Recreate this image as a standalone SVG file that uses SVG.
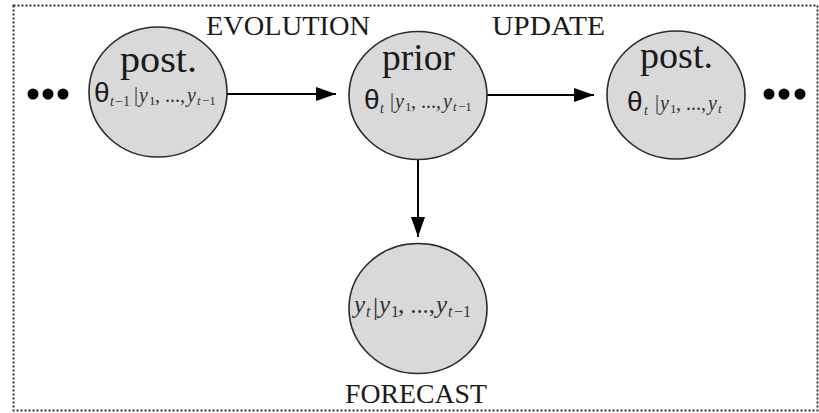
<svg xmlns="http://www.w3.org/2000/svg" width="819" height="413" viewBox="0 0 819 413">
<style>
.node ellipse{fill:#d9d9d9;stroke:#2a2a2a;stroke-width:1.6}
.ttl{font-family:"Liberation Serif",serif;font-size:37px;fill:#1a1a1a}
.lbl{font-family:"Liberation Serif",serif;font-size:27px;fill:#1a1a1a}
.th{font-family:"Liberation Sans","DejaVu Sans",sans-serif;font-size:28px;fill:#1a1a1a}
.mi{font-family:"Liberation Serif",serif;font-style:italic;fill:#333}
.mr{font-family:"Liberation Serif",serif;fill:#333}
.conn line{stroke:#000;stroke-width:2}
.dot{fill:#000}
</style>
<defs>
<marker id="ah" markerUnits="userSpaceOnUse" markerWidth="21" markerHeight="15" refX="20" refY="7" orient="auto">
<path d="M0,0 L20,7 L0,14 z" fill="#000"/>
</marker>
</defs>
<rect x="13.5" y="5.5" width="804" height="405" fill="none" stroke="#333" stroke-width="2" stroke-dasharray="2,2"/>

<g id="labels">
<text class="lbl" x="206" y="35" textLength="164" lengthAdjust="spacingAndGlyphs">EVOLUTION</text>
<text class="lbl" x="492" y="35" textLength="113" lengthAdjust="spacingAndGlyphs">UPDATE</text>
<text class="lbl" x="345" y="403" textLength="142" lengthAdjust="spacingAndGlyphs">FORECAST</text>
</g>

<g id="dots-left">
<circle class="dot" cx="33" cy="94" r="5.5"/>
<circle class="dot" cx="48" cy="94" r="5.5"/>
<circle class="dot" cx="63" cy="94" r="5.5"/>
</g>
<g id="dots-right">
<circle class="dot" cx="769" cy="94" r="5.5"/>
<circle class="dot" cx="784" cy="94" r="5.5"/>
<circle class="dot" cx="800" cy="94" r="5.5"/>
</g>

<g class="conn" id="connectors">
<line x1="227" y1="94" x2="336" y2="94" marker-end="url(#ah)"/>
<line x1="487" y1="95" x2="594" y2="95" marker-end="url(#ah)"/>
<line x1="418" y1="159" x2="418" y2="237" marker-end="url(#ah)"/>
</g>

<g class="node" id="post-prev">
<ellipse cx="158" cy="92" rx="69" ry="65"/>
<text class="ttl" x="120" y="72" textLength="77" lengthAdjust="spacingAndGlyphs">post.</text>
<text class="th" x="94" y="102">θ</text>
<text class="mi" x="110" y="106" font-size="14">t</text>
<text class="mr" x="115" y="106" font-size="14">−1</text>
<text class="mr" x="134" y="101" font-size="20">|</text>
<text class="mi" x="139" y="102" font-size="20">y</text>
<text class="mr" x="149" y="105" font-size="13">1</text>
<text class="mr" x="155" y="102" font-size="20" textLength="30" lengthAdjust="spacing">, ..., </text>
<text class="mi" x="187" y="102" font-size="20">y</text>
<text class="mi" x="197" y="105" font-size="13">t</text>
<text class="mr" x="202" y="105" font-size="13">−1</text>
</g>

<g class="node" id="prior">
<ellipse cx="418" cy="95.5" rx="69" ry="64"/>
<text class="ttl" x="382" y="70" textLength="73" lengthAdjust="spacingAndGlyphs">prior</text>
<text class="th" x="364" y="109">θ</text>
<text class="mi" x="380" y="113" font-size="14">t</text>
<text class="mr" x="390" y="107" font-size="20">|</text>
<text class="mi" x="395" y="108" font-size="20">y</text>
<text class="mr" x="405" y="111" font-size="13">1</text>
<text class="mr" x="411" y="108" font-size="20" textLength="30" lengthAdjust="spacing">, ..., </text>
<text class="mi" x="443" y="108" font-size="20">y</text>
<text class="mi" x="453" y="111" font-size="13">t</text>
<text class="mr" x="458" y="111" font-size="13">−1</text>
</g>

<g class="node" id="post-cur">
<ellipse cx="676" cy="95" rx="69" ry="64"/>
<text class="ttl" x="640" y="68" textLength="73" lengthAdjust="spacingAndGlyphs">post.</text>
<text class="th" x="627" y="111">θ</text>
<text class="mi" x="644" y="115" font-size="14">t</text>
<text class="mr" x="655" y="109" font-size="20">|</text>
<text class="mi" x="660" y="110" font-size="20">y</text>
<text class="mr" x="670" y="113" font-size="13">1</text>
<text class="mr" x="676" y="110" font-size="20" textLength="30" lengthAdjust="spacing">, ..., </text>
<text class="mi" x="708" y="110" font-size="20">y</text>
<text class="mi" x="718" y="113" font-size="13">t</text>
</g>

<g class="node" id="forecast">
<ellipse cx="418" cy="308.5" rx="69" ry="65"/>
<text class="mi" x="354" y="313" font-size="25">y</text>
<text class="mi" x="366" y="317" font-size="16">t</text>
<text class="mr" x="373" y="315" font-size="26">|</text>
<text class="mi" x="379" y="313" font-size="25">y</text>
<text class="mr" x="391" y="317" font-size="16">1</text>
<text class="mr" x="398" y="313" font-size="25" textLength="37" lengthAdjust="spacing">, ..., </text>
<text class="mi" x="436" y="313" font-size="25">y</text>
<text class="mi" x="448" y="317" font-size="16">t</text>
<text class="mr" x="454" y="317" font-size="16">−1</text>
</g>
</svg>
